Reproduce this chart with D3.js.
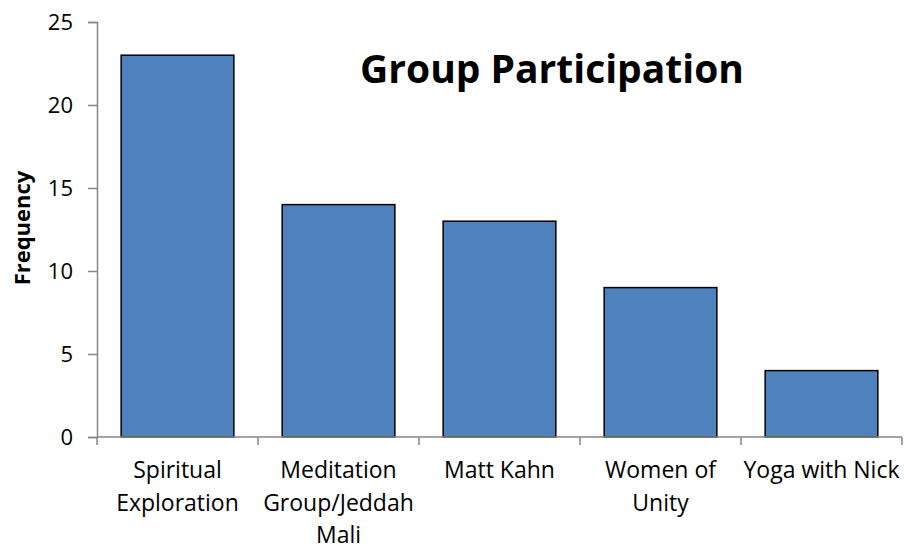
<!DOCTYPE html>
<html lang="en">
<head>
<meta charset="UTF-8">
<title>Group Participation</title>
<script src="https://cdn.jsdelivr.net/npm/d3@7"></script>
<style>
  body { margin: 0; background: #fff; }
  text { font-family: "Open Sans", Lato, sans-serif; fill: #000; }
</style>
</head>
<body>
<div id="chart"></div>
<script>
// data
var categories = ["Spiritual\nExploration", "Meditation\nGroup/Jeddah\nMali", "Matt Kahn", "Women of\nUnity", "Yoga with Nick"];
var frequency = [23, 14, 13, 9, 4];
var yTicks = [0, 5, 10, 15, 20, 25];

const w = 906, h = 550;
var margin = {top: 22, right: 4, bottom: 113, left: 97};

var svg = d3.select("#chart").append("svg")
    .attr("width", w)
    .attr("height", h);

var x = d3.scaleBand()
    .domain(categories)
    .range([margin.left, w - margin.right])
    .paddingInner(0.3)
    .paddingOuter(0.15);

var y = d3.scaleLinear()
    .domain([0, 25])
    .range([h - margin.bottom, margin.top]);

// bars
svg.append("g")
  .selectAll("rect")
  .data(frequency)
  .enter()
  .append("rect")
    .attr("x", (d, i) => x(categories[i]))
    .attr("y", d => y(d))
    .attr("width", x.bandwidth())
    .attr("height", d => y(0) - y(d))
    .attr("fill", "#4f81bd")
    .attr("stroke", "#000")
    .attr("stroke-width", 1.5);

// y axis
var yAxis = svg.append("g")
    .attr("transform", "translate(" + margin.left + ",0)")
    .call(d3.axisLeft(y).tickValues(yTicks).tickSize(9).tickSizeOuter(9).tickPadding(15));
yAxis.selectAll("text").style("font-size", "22px");

// x axis: ticks on category boundaries
var step = x.step();
var edges = d3.range(categories.length + 1).map(i => margin.left + i * step);
var xAxis = svg.append("g");
xAxis.append("line")
    .attr("x1", margin.left).attr("x2", edges[edges.length - 1])
    .attr("y1", y(0)).attr("y2", y(0));
xAxis.selectAll("line.tick")
  .data(edges)
  .enter()
  .append("line")
    .attr("class", "tick")
    .attr("x1", d => d).attr("x2", d => d)
    .attr("y1", y(0)).attr("y2", y(0) + 8);
xAxis.selectAll("line").attr("stroke", "#868686").attr("stroke-width", 1.5);

yAxis.selectAll("path, line").attr("stroke", "#868686").attr("stroke-width", 1.5);

xAxis.selectAll("text.cat")
  .data(categories)
  .enter()
  .append("text")
    .attr("class", "cat")
    .attr("text-anchor", "middle")
    .attr("x", d => x(d) + x.bandwidth() / 2)
    .attr("y", y(0) + 41)
    .style("font-size", "23px")
  .selectAll("tspan")
  .data(d => d.split("\n"))
  .enter()
  .append("tspan")
    .attr("x", function() { return this.parentNode.getAttribute("x"); })
    .attr("dy", (d, i) => i === 0 ? 0 : 32.5)
    .text(d => d);

// title
svg.append("text")
    .attr("x", 552)
    .attr("y", 83)
    .attr("text-anchor", "middle")
    .style("font-size", "39px")
    .style("font-weight", "bold")
    .text("Group Participation");

// y axis label
svg.append("text")
    .attr("transform", "translate(30," + 228 + ") rotate(-90)")
    .attr("text-anchor", "middle")
    .style("font-size", "22px")
    .style("font-weight", "bold")
    .text("Frequency");
</script>
</body>
</html>
